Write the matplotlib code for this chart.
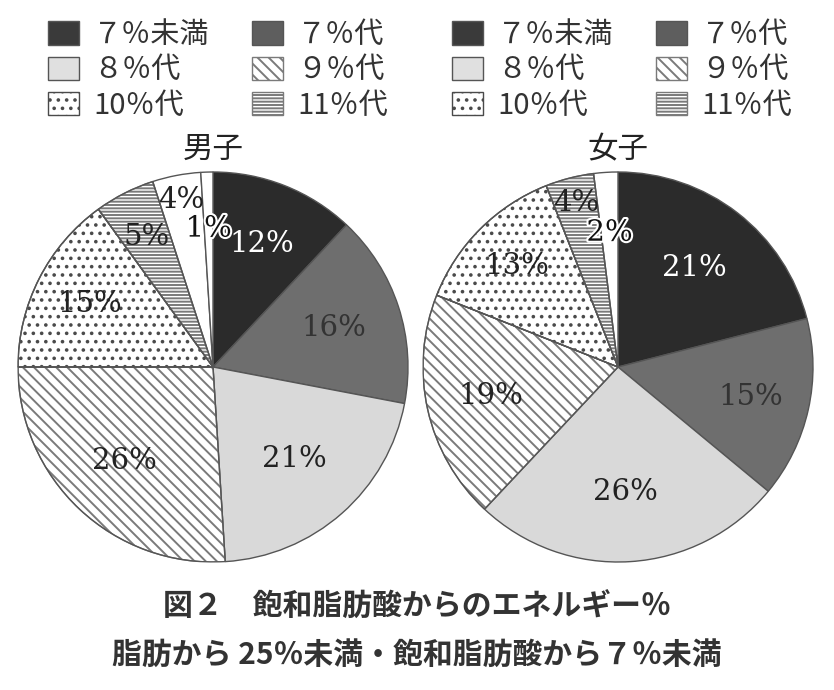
import matplotlib
matplotlib.use("Agg")
import matplotlib.pyplot as plt
import matplotlib.patches as mpatches
import matplotlib.patheffects as pe
import numpy as np

plt.rcParams['font.family'] = ['Noto Sans CJK JP', 'DejaVu Sans']
plt.rcParams['hatch.linewidth'] = 1.4

# ---- data ----
categories = ["７％未満", "７％代", "８％代", "９％代", "10％代", "11％代"]
male_values = [12, 16, 21, 26, 15, 5, 4, 1]      # last two: remaining (white) slices
female_values = [21, 15, 26, 19, 13, 4, 2]        # last one: remaining (white) slice
male_title = "男子"
female_title = "女子"
caption1 = "図２　飽和脂肪酸からのエネルギー％"
caption2 = "脂肪から 25％未満・飽和脂肪酸から７％未満"

# ---- styles ----
face = ["#2b2b2b", "#6e6e6e", "#d9d9d9", "white", "white", "white", "white", "white"]
hatches = [None, None, None, "\\\\\\", "..", "-----", None, None]
hatch_cols = [None, None, None, "#7a7a7a", "#4a4a4a", "#7a7a7a", None, None]
legend_face = ["#3a3a3a", "#5e5e5e", "#e0e0e0", "white", "white", "white"]
edge = "#555555"

male_r = [0.68, 0.65, 0.63, 0.66, 0.71, 0.75, 0.87, 0.71]
female_r = [0.64, 0.70, 0.64, 0.67, 0.73, 0.87, 0.69]
male_tc = ["white", "#333333", "#222222", "#222222", "#222222", "#222222", "#222222", "#111111"]
female_tc = ["white", "#333333", "#222222", "#222222", "#222222", "#222222", "#111111"]

W, H = 834, 690
fig = plt.figure(figsize=(W / 100, H / 100), dpi=100)


def axes_at(cx, cy, r):
    return fig.add_axes([(cx - r) / W, 1 - (cy + r) / H, 2 * r / W, 2 * r / H])


def draw_pie(ax, values, radii, tcolors, title):
    n = len(values)
    wedges, _ = ax.pie(values, startangle=90, counterclock=False, radius=1.0,
                       colors=face[:n],
                       wedgeprops=dict(edgecolor=edge, linewidth=1.0))
    for w, h, hc in zip(wedges, hatches[:n], hatch_cols[:n]):
        if h:
            # hatched wedge drawn in hatch colour, then a plain outline on top
            w.set_hatch(h)
            w.set_edgecolor(hc)
            ax.add_patch(mpatches.Wedge(w.center, w.r, w.theta1, w.theta2,
                                        facecolor="none", edgecolor=edge,
                                        linewidth=1.0))
    for w, v, r, tc in zip(wedges, values, radii, tcolors):
        ang = np.deg2rad((w.theta1 + w.theta2) / 2)
        x, y = r * np.cos(ang), r * np.sin(ang)
        t = ax.text(x, y, f"{v}%", ha="center", va="center", fontsize=21,
                    color=tc, family=['DejaVu Serif'], zorder=5)
        if v <= 2:
            t.set_path_effects([pe.withStroke(linewidth=3, foreground="white")])
    ax.set_xlim(-1, 1)
    ax.set_ylim(-1, 1)
    ax.set_aspect("equal")
    ax.set_title(title, fontsize=22, pad=10, color="#222222")


ax1 = axes_at(213, 367, 195)
draw_pie(ax1, male_values, male_r, male_tc, male_title)
ax2 = axes_at(618, 367, 195)
draw_pie(ax2, female_values, female_r, female_tc, female_title)

# legends (column-first order)
order = [0, 2, 4, 1, 3, 5]
handles = [mpatches.Patch(facecolor=legend_face[i],
                          edgecolor=(hatch_cols[i] if hatches[i] else edge),
                          hatch=hatches[i], label=categories[i]) for i in order]
for x0 in (48, 452):
    fig.legend(handles=handles, ncol=2, loc="upper left",
               bbox_to_anchor=(x0 / W, 1 - 20 / H), frameon=False,
               fontsize=21, handlelength=1.05, handleheight=0.85,
               handletextpad=0.5, columnspacing=1.45, labelspacing=0.18,
               borderpad=0, borderaxespad=0, labelcolor="#333333")

fig.text(0.5, 1 - 607 / H, caption1, ha="center", va="center", fontsize=21.5,
         fontweight="bold", color="#333333")
fig.text(0.5, 1 - 655 / H, caption2, ha="center", va="center", fontsize=21.5,
         fontweight="bold", color="#333333")

fig.savefig("out.png", dpi=100, facecolor="white")
